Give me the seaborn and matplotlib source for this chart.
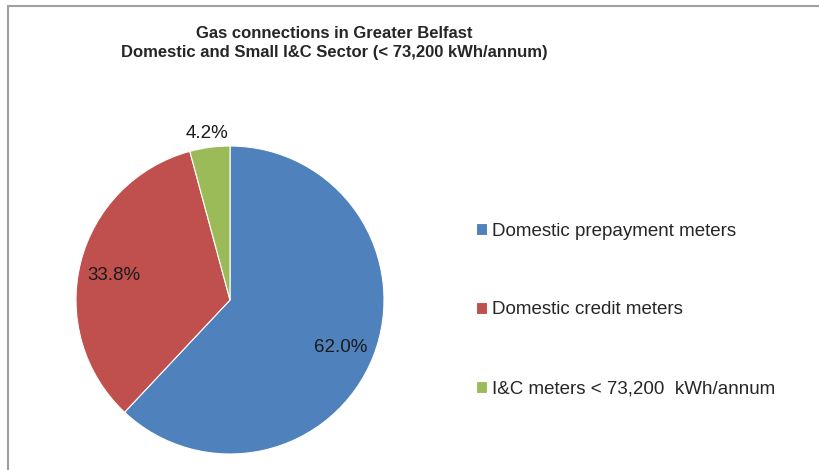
import numpy as np
import pandas as pd
import matplotlib.pyplot as plt
import seaborn as sns
from matplotlib.lines import Line2D

categories = ["Domestic prepayment meters", "Domestic credit meters", "I&C meters < 73,200  kWh/annum"]
shares = [62.0, 33.8, 4.2]
colors = ["#4F81BD", "#C0504D", "#9BBB59"]
label_dist = [0.77, 0.78, 1.12]

df = pd.DataFrame({"category": categories, "share": shares})

sns.set_theme(style="white")
plt.rcParams["font.family"] = ["Liberation Sans", "DejaVu Sans"]

fig = plt.figure(figsize=(8.2, 4.7), dpi=100)

# pie axes: centre ~ (230, 300) px, radius ~154 px
r_px = 154
ax = fig.add_axes([(230 - r_px) / 820, (470 - 300 - r_px) / 470, 2 * r_px / 820, 2 * r_px / 470])
wedges, _ = ax.pie(df["share"], colors=colors, startangle=90, counterclock=False,
                   wedgeprops=dict(edgecolor="white", linewidth=0.8))
ax.set_xlim(-1, 1)
ax.set_ylim(-1, 1)
ax.set_aspect("equal")

for w, val, d in zip(wedges, df["share"], label_dist):
    mid = np.deg2rad((w.theta1 + w.theta2) / 2)
    ax.annotate(f"{val:.1f}%", (d * np.cos(mid), d * np.sin(mid)), xytext=(0, -3),
                textcoords="offset points", ha="center", va="center",
                fontsize=13.5, color="#1a1a1a", annotation_clip=False)

fig.text(334 / 820, 1 - 43 / 470,
         "Gas connections in Greater Belfast\nDomestic and Small I&C Sector (< 73,200 kWh/annum)",
         ha="center", va="center", fontsize=12, fontweight="bold", linespacing=1.3)

fig.legend(wedges, df["category"], loc="center left", bbox_to_anchor=(476 / 820, 1 - 310 / 470),
           frameon=False, fontsize=13.5, handlelength=0.6, handleheight=0.6, handletextpad=0.25,
           labelspacing=3.3, borderpad=0, borderaxespad=0)

# chart border (cut off at right and bottom)
fig.add_artist(Line2D([8 / 820, 8 / 820], [0, 1 - 6 / 470], color="#a0a0a0", lw=1.5))
fig.add_artist(Line2D([8 / 820, 1], [1 - 6 / 470, 1 - 6 / 470], color="#a0a0a0", lw=1.5))

fig.savefig("out.png", dpi=100, facecolor="white")
